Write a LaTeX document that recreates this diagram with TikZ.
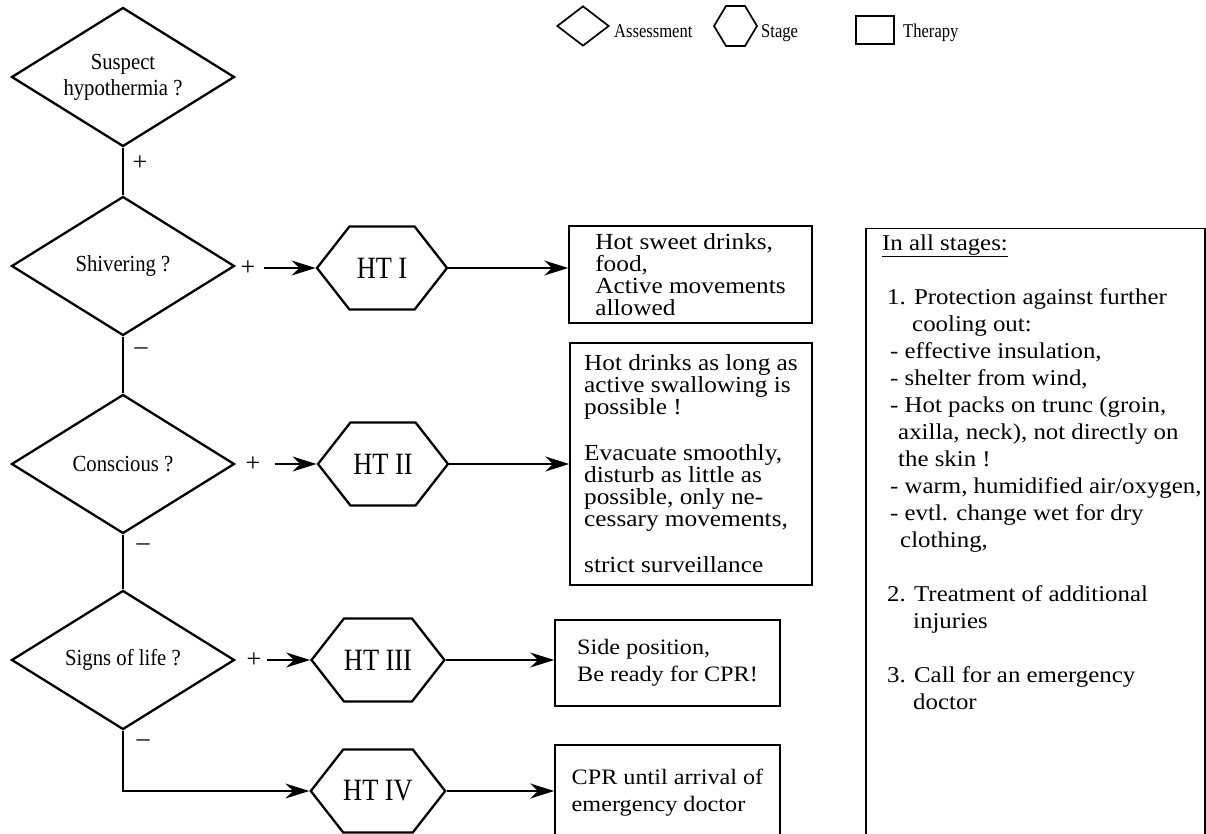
\documentclass[tikz,border=0pt]{standalone}
\usepackage{fontspec}
\setmainfont{Liberation Serif}
\newfontfamily\htfont[FakeStretch=0.85]{Liberation Serif}
\newfontfamily\narrowfont[FakeStretch=0.9]{Liberation Serif}
\newfontfamily\widefont[FakeStretch=1.1]{Liberation Serif}
\usetikzlibrary{arrows.meta,shapes.geometric,shapes.symbols}

\tikzset{
  assess/.style={diamond, aspect=1.6, draw, line width=2.3pt, minimum width=223pt, minimum height=139pt,
    inner sep=0pt, align=center, font=\narrowfont\fontsize{23}{26}\selectfont},
  stage/.style={signal, signal to=west and east, signal pointer angle=104, draw, line width=2.3pt,
    minimum width=130pt, minimum height=83pt, inner sep=0pt, font=\htfont\fontsize{31}{31}\selectfont},
  therapy/.style={rectangle, draw, line width=1.5pt, align=left, inner sep=0pt,
    font=\widefont\fontsize{23}{22}\selectfont},
  sign/.style={inner sep=0pt, font=\fontsize{26}{26}\selectfont},
  legend/.style={inner sep=0pt, anchor=base west, font=\htfont\fontsize{19.5}{20}\selectfont},
  flow/.style={line width=1.5pt},
  arr/.style={flow, -{Stealth[length=24pt,width=15pt]}},
}

\begin{document}
\begin{tikzpicture}[x=1pt, y=-1pt]
\clip (0,0) rectangle (1206,834);
% legend
\node[diamond, draw, line width=1.7pt, minimum width=52pt, minimum height=40pt, inner sep=0pt] (keyassess) at (583,26) {};
\node[legend] (keyassesstxt) at (614,38) {Assessment};
\node[stage, line width=1.7pt, minimum width=43pt, minimum height=40pt, signal pointer angle=118] (keystage) at (735.5,26) {};
\node[legend] (keystagetxt) at (761,38) {Stage};
\node[rectangle, draw, line width=1.5pt, minimum width=38pt, minimum height=28pt] (keytherapy) at (875,30) {};
\node[legend] (keytherapytxt) at (903,38) {Therapy};

% assessments
\node[assess] (suspect) at (123,77) {Suspect\\hypothermia ?};
\node[assess] (shiver) at (123,266) {Shivering ?};
\node[assess] (conscious) at (123,464) {Conscious ?};
\node[assess] (life) at (123,660) {Signs of life ?};

% stages
\node[stage] (ht1) at (382,268) {HT I};
\node[stage] (ht2) at (383,464) {HT II};
\node[stage, minimum width=121pt] (ht3) at (378,660) {HT III};
\node[stage, minimum width=121pt] (ht4) at (378,791) {HT IV};

% therapies
\node[therapy, minimum width=243pt, minimum height=97pt] (tx1) at (690.5,274.5)
  {Hot sweet drinks,\\food,\\Active movements\\allowed};
\node[therapy, minimum width=242pt, minimum height=242pt] (tx2) at (691,464)
  {Hot drinks as long as\\active swallowing is\\possible !\\[24pt]Evacuate smoothly,\\disturb as little as\\possible, only ne-\\cessary movements,\\[24pt]strict surveillance};
\node[therapy, minimum width=225pt, minimum height=86pt, font=\widefont\fontsize{22}{27}\selectfont] (tx3) at (667.5,663)
  {Side position,\\Be ready for CPR!};
\node[therapy, minimum width=225pt, minimum height=95pt, font=\widefont\fontsize{22}{27}\selectfont] (tx4) at (667.5,792.5)
  {CPR until arrival of\\emergency doctor};

% general measures
\node[therapy, anchor=north west, minimum width=339pt, minimum height=620pt] (allbox) at (865,228) {};
\node[anchor=north west, align=left, inner sep=0pt, font=\widefont\fontsize{22.6}{27}\selectfont] (alltext) at (882,234.5) {%
  \underline{In all stages:}\\[27pt]
  \hspace*{5pt}1. Protection against further\\
  \hspace*{30pt}cooling out:\\
  \hspace*{8pt}- effective insulation,\\
  \hspace*{8pt}- shelter from wind,\\
  \hspace*{8pt}- Hot packs on trunc (groin,\\
  \hspace*{16pt}axilla, neck), not directly on\\
  \hspace*{16pt}the skin !\\
  \hspace*{8pt}- warm, humidified air/oxygen,\\
  \hspace*{8pt}- evtl. change wet for dry\\
  \hspace*{18pt}clothing,\\[27pt]
  \hspace*{5pt}2. Treatment of additional\\
  \hspace*{31pt}injuries\\[27pt]
  \hspace*{5pt}3. Call for an emergency\\
  \hspace*{31pt}doctor};

% signs
\node[sign] (pos1) at (140,163) {+};
\node[sign] (pos2) at (248,268) {+};
\node[sign] (pos3) at (253,464) {+};
\node[sign] (pos4) at (254,660) {+};
\node[sign] (neg1) at (141,351) {–};
\node[sign] (neg2) at (143,547) {–};
\node[sign] (neg3) at (143,743) {–};

% connectors
\draw[flow] (suspect) -- (shiver);
\draw[flow] (shiver) -- (conscious);
\draw[flow] (conscious) -- (life);
\draw[arr] (life.south) |- (ht4.west);
\draw[arr] ([xshift=8pt]pos2.east) -- (ht1.west);
\draw[arr] ([xshift=14pt]pos3.east) -- (ht2.west);
\draw[arr] ([xshift=5pt]pos4.east) -- (ht3.west);
\draw[arr] (ht1.east) -- (ht1.east -| tx1.west);
\draw[arr] (ht2.east) -- (ht2.east -| tx2.west);
\draw[arr] (ht3.east) -- (ht3.east -| tx3.west);
\draw[arr] (ht4.east) -- (ht4.east -| tx4.west);
\end{tikzpicture}
\end{document}
